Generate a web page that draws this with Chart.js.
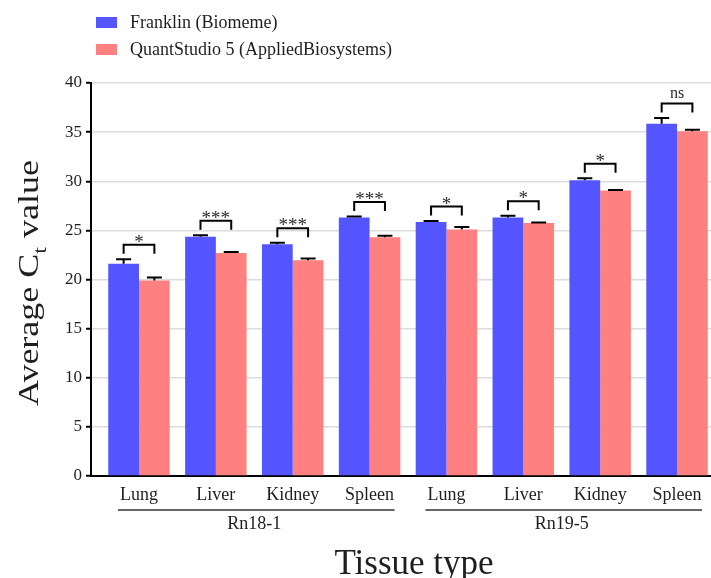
<!DOCTYPE html>
<html>
<head>
<meta charset="utf-8">
<script src="https://cdn.jsdelivr.net/npm/chart.js"></script>
<style>
  html, body { margin: 0; padding: 0; background: #fff; overflow: hidden; }
  #chart { display: block; }
</style>
</head>
<body>
<canvas id="chart" width="711" height="578"></canvas>
<script>
const categories = ['Lung', 'Liver', 'Kidney', 'Spleen', 'Lung', 'Liver', 'Kidney', 'Spleen'];
const groups = ['Rn18-1', 'Rn19-5'];
const groupRanges = [[0, 3], [4, 7]];
const seriesNames = ['Franklin (Biomeme)', 'QuantStudio 5 (AppliedBiosystems)'];
const franklin = [21.6, 24.35, 23.6, 26.3, 25.85, 26.3, 30.1, 35.85];
const franklinErr = [0.45, 0.15, 0.15, 0.1, 0.1, 0.2, 0.2, 0.6];
const quant = [19.9, 22.7, 21.95, 24.3, 25.1, 25.75, 29.05, 35.1];
const quantErr = [0.3, 0.1, 0.2, 0.15, 0.25, 0.05, 0.05, 0.15];
const signif = ['*', '***', '***', '***', '*', '*', '*', 'ns'];

const blue = 'rgb(85,85,255)';
const pink = 'rgb(255,128,128)';
const serif = "'Liberation Serif', 'Times New Roman', serif";
const textColor = '#1e1e1e';

const toPoints = vals => vals.map((v, i) => ({ x: i, y: v }));

// error bars, brackets, legend and titles
const extras = {
    id: 'extras',
    afterDatasetsDraw(chart) {
        const ctx = chart.ctx;
        const y = chart.scales.y;
        const metaA = chart.getDatasetMeta(0);
        const metaB = chart.getDatasetMeta(1);
        const errs = [franklinErr, quantErr];
        const vals = [franklin, quant];
        ctx.save();
        ctx.strokeStyle = '#000';
        ctx.lineWidth = 2;
        [metaA, metaB].forEach((meta, d) => {
            meta.data.forEach((bar, i) => {
                const top = y.getPixelForValue(vals[d][i] + errs[d][i]);
                const base = y.getPixelForValue(vals[d][i]);
                ctx.beginPath();
                ctx.moveTo(bar.x, base);
                ctx.lineTo(bar.x, top);
                ctx.moveTo(bar.x - 7.5, top);
                ctx.lineTo(bar.x + 7.5, top);
                ctx.stroke();
            });
        });
        // significance brackets
        categories.forEach((c, i) => {
            const a = metaA.data[i], b = metaB.data[i];
            const hi = Math.min(y.getPixelForValue(franklin[i] + franklinErr[i]),
                                y.getPixelForValue(quant[i] + quantErr[i]));
            const top = hi - 14.5;
            ctx.beginPath();
            ctx.moveTo(a.x, top + 9);
            ctx.lineTo(a.x, top);
            ctx.lineTo(b.x, top);
            ctx.lineTo(b.x, top + 9);
            ctx.stroke();
            ctx.fillStyle = '#2a2a2a';
            ctx.textAlign = 'center';
            ctx.textBaseline = 'alphabetic';
            const cx = (a.x + b.x) / 2;
            if (signif[i] === 'ns') {
                ctx.font = '16px ' + serif;
                ctx.fillText(signif[i], cx, top - 5);
            } else {
                ctx.font = '19px ' + serif;
                ctx.fillText(signif[i], cx, top + 3);
            }
        });
        ctx.restore();
    },
    afterDraw(chart) {
        const ctx = chart.ctx;
        const x = chart.scales.x;
        ctx.save();
        // legend
        const colors = [blue, pink];
        seriesNames.forEach((name, k) => {
            const cy = 22.5 + k * 27;
            ctx.fillStyle = colors[k];
            ctx.fillRect(96, cy - 5.5, 21, 11);
            ctx.fillStyle = textColor;
            ctx.font = '18px ' + serif;
            ctx.textAlign = 'left';
            ctx.textBaseline = 'middle';
            ctx.fillText(name, 130, cy + 1);
        });
        // group lines and labels
        ctx.strokeStyle = '#333';
        ctx.lineWidth = 1.5;
        groups.forEach((g, k) => {
            const x0 = x.getPixelForValue(groupRanges[k][0]);
            const x1 = x.getPixelForValue(groupRanges[k][1]);
            ctx.beginPath();
            ctx.moveTo(x0 - 21, 510);
            ctx.lineTo(x1 + 25, 510);
            ctx.stroke();
            ctx.fillStyle = textColor;
            ctx.font = '18px ' + serif;
            ctx.textAlign = 'center';
            ctx.textBaseline = 'alphabetic';
            ctx.fillText(g, (x0 + x1) / 2, 529);
        });
        // x title
        ctx.font = '35px ' + serif;
        ctx.textAlign = 'center';
        ctx.fillText('Tissue type', 414, 574);
        // y title with subscript
        ctx.translate(38, 283);
        ctx.rotate(-Math.PI / 2);
        ctx.scale(1, 0.8);
        const big = '36px ' + serif, small = '24px ' + serif;
        ctx.font = big;
        const w1 = ctx.measureText('Average C').width;
        const w3 = ctx.measureText(' value').width;
        ctx.font = small;
        const w2 = ctx.measureText('t').width;
        let sx = -(w1 + w2 + w3) / 2;
        ctx.textAlign = 'left';
        ctx.font = big;
        ctx.fillText('Average C', sx, 0);
        sx += w1;
        ctx.font = small;
        ctx.fillText('t', sx, 10);
        sx += w2;
        ctx.font = big;
        ctx.fillText(' value', sx, 0);
        ctx.restore();
    }
};

new Chart(document.getElementById('chart'), {
    type: 'bar',
    data: {
        datasets: [
            { label: seriesNames[0], data: toPoints(franklin), backgroundColor: blue },
            { label: seriesNames[1], data: toPoints(quant), backgroundColor: pink }
        ]
    },
    options: {
        responsive: false,
        animation: false,
        events: [],
        layout: { padding: { top: 83, left: 0, right: 0, bottom: 0 } },
        datasets: { bar: { categoryPercentage: 0.8, barPercentage: 1 } },
        plugins: { legend: { display: false }, tooltip: { enabled: false } },
        scales: {
            x: {
                type: 'linear',
                offset: false,
                min: -0.6245,
                max: 7.442,
                afterFit: s => { s.height = 102; },
                grid: { display: false, offset: false },
                border: { display: true, color: '#000', width: 2 },
                ticks: {
                    stepSize: 1,
                    includeBounds: false,
                    autoSkip: false,
                    maxRotation: 0,
                    padding: 0,
                    color: textColor,
                    font: { family: serif, size: 18 },
                    callback: v => (Number.isInteger(v) && categories[v]) ? categories[v] : ''
                }
            },
            y: {
                min: 0,
                max: 40,
                afterFit: s => { s.width = 91; },
                grid: { color: '#dcdcdc', lineWidth: 1.5, tickLength: 5, tickColor: '#000', tickWidth: 2 },
                border: { display: true, color: '#000', width: 2 },
                ticks: {
                    stepSize: 5,
                    padding: 4,
                    color: textColor,
                    font: { family: serif, size: 17 }
                }
            }
        }
    },
    plugins: [extras]
});
</script>
</body>
</html>
